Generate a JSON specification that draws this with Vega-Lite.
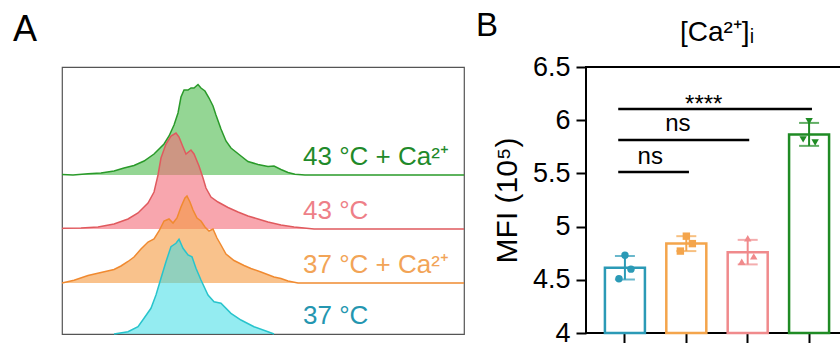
{
  "$schema": "https://vega.github.io/schema/vega-lite/v6.json",
  "background": "white",
  "padding": {"left": 12, "top": 10, "right": 0, "bottom": 0},
  "spacing": 8,
  "config": {
    "font": "Liberation Sans",
    "view": {"stroke": null},
    "title": {"fontWeight": "normal", "color": "black", "font": "Liberation Sans"},
    "axis": {"labelFont": "Liberation Sans", "titleFont": "Liberation Sans"}
  },
  "datasets": {
    "hist": [
      {"g": "43 °C + Ca²⁺", "L": 4.000, "n": 0.5}, {"g": "43 °C + Ca²⁺", "L": 4.130, "n": 0}, {"g": "43 °C + Ca²⁺", "L": 4.307, "n": 1.3}, {"g": "43 °C + Ca²⁺", "L": 4.460, "n": 2}, {"g": "43 °C + Ca²⁺", "L": 4.614, "n": 4}, {"g": "43 °C + Ca²⁺", "L": 4.732, "n": 7}, {"g": "43 °C + Ca²⁺", "L": 4.850, "n": 9.5}, {"g": "43 °C + Ca²⁺", "L": 4.968, "n": 14}, {"g": "43 °C + Ca²⁺", "L": 5.086, "n": 21}, {"g": "43 °C + Ca²⁺", "L": 5.204, "n": 31}, {"g": "43 °C + Ca²⁺", "L": 5.263, "n": 39}, {"g": "43 °C + Ca²⁺", "L": 5.322, "n": 50}, {"g": "43 °C + Ca²⁺", "L": 5.369, "n": 62}, {"g": "43 °C + Ca²⁺", "L": 5.404, "n": 78}, {"g": "43 °C + Ca²⁺", "L": 5.440, "n": 85}, {"g": "43 °C + Ca²⁺", "L": 5.487, "n": 85}, {"g": "43 °C + Ca²⁺", "L": 5.522, "n": 87}, {"g": "43 °C + Ca²⁺", "L": 5.558, "n": 87}, {"g": "43 °C + Ca²⁺", "L": 5.605, "n": 90.5}, {"g": "43 °C + Ca²⁺", "L": 5.640, "n": 87}, {"g": "43 °C + Ca²⁺", "L": 5.687, "n": 84}, {"g": "43 °C + Ca²⁺", "L": 5.735, "n": 77}, {"g": "43 °C + Ca²⁺", "L": 5.782, "n": 69}, {"g": "43 °C + Ca²⁺", "L": 5.817, "n": 60}, {"g": "43 °C + Ca²⁺", "L": 5.876, "n": 46}, {"g": "43 °C + Ca²⁺", "L": 5.935, "n": 34}, {"g": "43 °C + Ca²⁺", "L": 5.994, "n": 27}, {"g": "43 °C + Ca²⁺", "L": 6.112, "n": 19}, {"g": "43 °C + Ca²⁺", "L": 6.195, "n": 13.5}, {"g": "43 °C + Ca²⁺", "L": 6.313, "n": 10.5}, {"g": "43 °C + Ca²⁺", "L": 6.431, "n": 8.5}, {"g": "43 °C + Ca²⁺", "L": 6.502, "n": 9}, {"g": "43 °C + Ca²⁺", "L": 6.584, "n": 5.5}, {"g": "43 °C + Ca²⁺", "L": 6.667, "n": 2.5}, {"g": "43 °C + Ca²⁺", "L": 6.749, "n": 0.8}, {"g": "43 °C + Ca²⁺", "L": 6.867, "n": 0}, {"g": "43 °C + Ca²⁺", "L": 8.744, "n": 0},
      {"g": "43 °C", "L": 4.000, "n": 0.5}, {"g": "43 °C", "L": 4.024, "n": 0.7}, {"g": "43 °C", "L": 4.224, "n": 1}, {"g": "43 °C", "L": 4.425, "n": 2}, {"g": "43 °C", "L": 4.614, "n": 5}, {"g": "43 °C", "L": 4.779, "n": 10}, {"g": "43 °C", "L": 4.897, "n": 16}, {"g": "43 °C", "L": 5.015, "n": 26}, {"g": "43 °C", "L": 5.086, "n": 37}, {"g": "43 °C", "L": 5.133, "n": 54}, {"g": "43 °C", "L": 5.168, "n": 71}, {"g": "43 °C", "L": 5.227, "n": 85}, {"g": "43 °C", "L": 5.286, "n": 93}, {"g": "43 °C", "L": 5.345, "n": 96}, {"g": "43 °C", "L": 5.381, "n": 92}, {"g": "43 °C", "L": 5.428, "n": 82}, {"g": "43 °C", "L": 5.463, "n": 75}, {"g": "43 °C", "L": 5.522, "n": 79}, {"g": "43 °C", "L": 5.558, "n": 75}, {"g": "43 °C", "L": 5.617, "n": 63}, {"g": "43 °C", "L": 5.664, "n": 51}, {"g": "43 °C", "L": 5.699, "n": 41}, {"g": "43 °C", "L": 5.758, "n": 32}, {"g": "43 °C", "L": 5.841, "n": 27}, {"g": "43 °C", "L": 5.959, "n": 21.5}, {"g": "43 °C", "L": 6.077, "n": 17}, {"g": "43 °C", "L": 6.195, "n": 13}, {"g": "43 °C", "L": 6.313, "n": 10}, {"g": "43 °C", "L": 6.431, "n": 7}, {"g": "43 °C", "L": 6.584, "n": 4}, {"g": "43 °C", "L": 6.738, "n": 2}, {"g": "43 °C", "L": 6.974, "n": 0}, {"g": "43 °C", "L": 8.744, "n": 0},
      {"g": "37 °C + Ca²⁺", "L": 4.000, "n": 0}, {"g": "37 °C + Ca²⁺", "L": 4.142, "n": 2.7}, {"g": "37 °C + Ca²⁺", "L": 4.307, "n": 7.5}, {"g": "37 °C + Ca²⁺", "L": 4.460, "n": 10.5}, {"g": "37 °C + Ca²⁺", "L": 4.614, "n": 13.5}, {"g": "37 °C + Ca²⁺", "L": 4.696, "n": 17}, {"g": "37 °C + Ca²⁺", "L": 4.779, "n": 21.5}, {"g": "37 °C + Ca²⁺", "L": 4.850, "n": 26}, {"g": "37 °C + Ca²⁺", "L": 4.932, "n": 34}, {"g": "37 °C + Ca²⁺", "L": 5.015, "n": 41}, {"g": "37 °C + Ca²⁺", "L": 5.086, "n": 44}, {"g": "37 °C + Ca²⁺", "L": 5.145, "n": 52}, {"g": "37 °C + Ca²⁺", "L": 5.204, "n": 62}, {"g": "37 °C + Ca²⁺", "L": 5.263, "n": 64}, {"g": "37 °C + Ca²⁺", "L": 5.310, "n": 60}, {"g": "37 °C + Ca²⁺", "L": 5.357, "n": 65}, {"g": "37 °C + Ca²⁺", "L": 5.404, "n": 76}, {"g": "37 °C + Ca²⁺", "L": 5.451, "n": 85}, {"g": "37 °C + Ca²⁺", "L": 5.475, "n": 87}, {"g": "37 °C + Ca²⁺", "L": 5.510, "n": 81}, {"g": "37 °C + Ca²⁺", "L": 5.546, "n": 73}, {"g": "37 °C + Ca²⁺", "L": 5.593, "n": 65}, {"g": "37 °C + Ca²⁺", "L": 5.640, "n": 62}, {"g": "37 °C + Ca²⁺", "L": 5.687, "n": 56}, {"g": "37 °C + Ca²⁺", "L": 5.735, "n": 52}, {"g": "37 °C + Ca²⁺", "L": 5.782, "n": 54}, {"g": "37 °C + Ca²⁺", "L": 5.829, "n": 45}, {"g": "37 °C + Ca²⁺", "L": 5.876, "n": 38}, {"g": "37 °C + Ca²⁺", "L": 5.935, "n": 29}, {"g": "37 °C + Ca²⁺", "L": 6.030, "n": 22.5}, {"g": "37 °C + Ca²⁺", "L": 6.148, "n": 17.5}, {"g": "37 °C + Ca²⁺", "L": 6.230, "n": 14.5}, {"g": "37 °C + Ca²⁺", "L": 6.348, "n": 11}, {"g": "37 °C + Ca²⁺", "L": 6.502, "n": 6}, {"g": "37 °C + Ca²⁺", "L": 6.584, "n": 4.5}, {"g": "37 °C + Ca²⁺", "L": 6.667, "n": 2}, {"g": "37 °C + Ca²⁺", "L": 6.785, "n": 0}, {"g": "37 °C + Ca²⁺", "L": 8.744, "n": 0},
      {"g": "37 °C", "L": 4.614, "n": 0}, {"g": "37 °C", "L": 4.779, "n": 2.3}, {"g": "37 °C", "L": 4.897, "n": 7.3}, {"g": "37 °C", "L": 4.968, "n": 15.7}, {"g": "37 °C", "L": 5.050, "n": 25.7}, {"g": "37 °C", "L": 5.109, "n": 39}, {"g": "37 °C", "L": 5.168, "n": 55.7}, {"g": "37 °C", "L": 5.227, "n": 72.3}, {"g": "37 °C", "L": 5.286, "n": 87.3}, {"g": "37 °C", "L": 5.345, "n": 90.7}, {"g": "37 °C", "L": 5.381, "n": 94.7}, {"g": "37 °C", "L": 5.428, "n": 85.7}, {"g": "37 °C", "L": 5.487, "n": 79}, {"g": "37 °C", "L": 5.534, "n": 77.3}, {"g": "37 °C", "L": 5.581, "n": 65.7}, {"g": "37 °C", "L": 5.640, "n": 54}, {"g": "37 °C", "L": 5.723, "n": 39}, {"g": "37 °C", "L": 5.794, "n": 32.3}, {"g": "37 °C", "L": 5.876, "n": 30.7}, {"g": "37 °C", "L": 5.994, "n": 20.7}, {"g": "37 °C", "L": 6.112, "n": 14}, {"g": "37 °C", "L": 6.266, "n": 7.3}, {"g": "37 °C", "L": 6.431, "n": 2.3}, {"g": "37 °C", "L": 6.502, "n": 0}
    ],
    "mfi": [
      {"g": "37 °C", "r": 1, "v": 4.51}, {"g": "37 °C", "r": 2, "v": 4.73}, {"g": "37 °C", "r": 3, "v": 4.60},
      {"g": "37 °C + Ca²⁺", "r": 1, "v": 4.77}, {"g": "37 °C + Ca²⁺", "r": 2, "v": 4.91}, {"g": "37 °C + Ca²⁺", "r": 3, "v": 4.84},
      {"g": "43 °C", "r": 1, "v": 4.67}, {"g": "43 °C", "r": 2, "v": 4.89}, {"g": "43 °C", "r": 3, "v": 4.72},
      {"g": "43 °C + Ca²⁺", "r": 1, "v": 5.82}, {"g": "43 °C + Ca²⁺", "r": 2, "v": 5.99}, {"g": "43 °C + Ca²⁺", "r": 3, "v": 5.79}
    ]
  },
  "hconcat": [
    {
      "width": 402,
      "height": 267,
      "title": {"text": "A", "anchor": "start", "frame": "group", "dx": -49, "fontSize": 36, "offset": 18},
      "view": {"stroke": "#555555", "strokeWidth": 1.2},
      "resolve": {"scale": {"y": "independent"}},
      "layer": [
        {
          "layer": [
            {
              "data": {"name": "hist"},
              "transform": [{"filter": {"field": "g", "equal": "43 °C + Ca²⁺"}}],
              "mark": {"type": "area", "fill": "#4cbb4c", "fillOpacity": 0.6, "line": {"stroke": "#2a9a2a", "strokeWidth": 1.5}},
              "encoding": {
                "x": {"field": "L", "type": "quantitative", "scale": {"domain": [4, 8.744], "nice": false, "zero": false},
                  "axis": {"title": null, "labels": false, "domain": false, "grid": false, "tickColor": "#444444", "tickWidth": 1.2,
                    "tickSize": {"condition": {"test": "abs(datum.value - round(datum.value)) < 0.001", "value": 9}, "value": 5},
                    "values": [4,4.301,4.477,4.602,4.699,4.778,4.845,4.903,4.954,5,5.301,5.477,5.602,5.699,5.778,5.845,5.903,5.954,6,6.301,6.477,6.602,6.699,6.778,6.845,6.903,6.954,7,7.301,7.477,7.602,7.699,7.778,7.845,7.903,7.954,8,8.301,8.477,8.602,8.699]}},
                "y": {"field": "n", "type": "quantitative", "scale": {"domain": [-159, 108], "nice": false}, "axis": null}
              }
            },
            {
              "data": {"values": [{"label": "43 °C + Ca²⁺"}]},
              "mark": {"type": "text", "align": "left", "baseline": "alphabetic", "fontSize": 26, "color": "#1f8a2a"},
              "encoding": {
                "x": {"datum": 6.844, "type": "quantitative", "axis": null},
                "y": {"datum": 10, "type": "quantitative", "axis": null},
                "text": {"field": "label"}
              }
            }
          ]
        },
        {
          "layer": [
            {
              "data": {"name": "hist"},
              "transform": [{"filter": {"field": "g", "equal": "43 °C"}}],
              "mark": {"type": "area", "fill": "#f46a78", "fillOpacity": 0.6, "line": {"stroke": "#e05a5e", "strokeWidth": 1.5}},
              "encoding": {
                "x": {"field": "L", "type": "quantitative", "scale": {"domain": [4, 8.744], "nice": false, "zero": false}, "axis": null},
                "y": {"field": "n", "type": "quantitative", "scale": {"domain": [-105, 162], "nice": false}, "axis": null}
              }
            },
            {
              "data": {"values": [{"label": "43 °C"}]},
              "mark": {"type": "text", "align": "left", "baseline": "alphabetic", "fontSize": 26, "color": "#ee7f88"},
              "encoding": {
                "x": {"datum": 6.844, "type": "quantitative", "axis": null},
                "y": {"datum": 10, "type": "quantitative", "axis": null},
                "text": {"field": "label"}
              }
            }
          ]
        },
        {
          "layer": [
            {
              "data": {"name": "hist"},
              "transform": [{"filter": {"field": "g", "equal": "37 °C + Ca²⁺"}}],
              "mark": {"type": "area", "fill": "#f59a40", "fillOpacity": 0.6, "line": {"stroke": "#f08a30", "strokeWidth": 1.5}},
              "encoding": {
                "x": {"field": "L", "type": "quantitative", "scale": {"domain": [4, 8.744], "nice": false, "zero": false}, "axis": null},
                "y": {"field": "n", "type": "quantitative", "scale": {"domain": [-51, 216], "nice": false}, "axis": null}
              }
            },
            {
              "data": {"values": [{"label": "37 °C + Ca²⁺"}]},
              "mark": {"type": "text", "align": "left", "baseline": "alphabetic", "fontSize": 26, "color": "#f2a457"},
              "encoding": {
                "x": {"datum": 6.844, "type": "quantitative", "axis": null},
                "y": {"datum": 10, "type": "quantitative", "axis": null},
                "text": {"field": "label"}
              }
            }
          ]
        },
        {
          "layer": [
            {
              "data": {"name": "hist"},
              "transform": [{"filter": {"field": "g", "equal": "37 °C"}}],
              "mark": {"type": "area", "fill": "#3ddde6", "fillOpacity": 0.55, "line": {"stroke": "#28c4cc", "strokeWidth": 1.5}},
              "encoding": {
                "x": {"field": "L", "type": "quantitative", "scale": {"domain": [4, 8.744], "nice": false, "zero": false}, "axis": null},
                "y": {"field": "n", "type": "quantitative", "scale": {"domain": [0, 267], "nice": false}, "axis": null}
              }
            },
            {
              "data": {"values": [{"label": "37 °C"}]},
              "mark": {"type": "text", "align": "left", "baseline": "alphabetic", "fontSize": 26, "color": "#2496b0"},
              "encoding": {
                "x": {"datum": 6.844, "type": "quantitative", "axis": null},
                "y": {"datum": 10, "type": "quantitative", "axis": null},
                "text": {"field": "label"}
              }
            }
          ]
        }
      ]
    },
    {
      "title": {"text": "B", "anchor": "start", "frame": "group", "dx": -110, "fontSize": 33, "offset": -25},
      "vconcat": [
        {
          "width": 262,
          "height": 266,
          "title": {"text": "[Ca²⁺]ᵢ", "fontSize": 28, "anchor": "middle", "offset": 6},
          "view": {"stroke": "black", "strokeWidth": 2},
          "resolve": {"scale": {"x": "independent"}},
          "layer": [
            {
              "data": {"name": "mfi"},
              "mark": {"type": "bar", "fill": "white", "strokeWidth": 2.5, "width": 40},
              "encoding": {
                "x": {"field": "g", "type": "nominal", "sort": ["37 °C", "37 °C + Ca²⁺", "43 °C", "43 °C + Ca²⁺"],
                  "scale": {"type": "band", "domain": ["37 °C", "37 °C + Ca²⁺", "43 °C", "43 °C + Ca²⁺"], "paddingInner": 0.35, "paddingOuter": 0.309},
                  "axis": {"title": null, "labels": false, "domain": false, "ticks": true, "tickSize": 10, "tickWidth": 2, "tickColor": "black"}},
                "y": {"aggregate": "mean", "field": "v", "type": "quantitative", "scale": {"domain": [4, 6.5], "nice": false, "zero": false},
                  "axis": {"title": "MFI (10⁵)", "titleFontSize": 30, "titleFontWeight": "normal", "titleColor": "black", "titlePadding": 10,
                    "labelFontSize": 27, "labelColor": "black", "labelPadding": 6, "tickSize": 10, "tickWidth": 2, "tickColor": "black",
                    "domain": false, "grid": false, "values": [4, 4.5, 5, 5.5, 6, 6.5], "format": "~g"}},
                "stroke": {"field": "g", "type": "nominal", "scale": {"domain": ["37 °C", "37 °C + Ca²⁺", "43 °C", "43 °C + Ca²⁺"], "range": ["#2b9ab6", "#f4a54c", "#f08a8c", "#1f8b24"]}, "legend": null}
              }
            },
            {
              "data": {"name": "mfi"},
              "mark": {"type": "errorbar", "extent": "stdev", "ticks": true, "size": 20, "thickness": 2},
              "encoding": {
                "x": {"field": "g", "type": "nominal", "sort": ["37 °C", "37 °C + Ca²⁺", "43 °C", "43 °C + Ca²⁺"],
                  "scale": {"type": "band", "domain": ["37 °C", "37 °C + Ca²⁺", "43 °C", "43 °C + Ca²⁺"], "paddingInner": 0.35, "paddingOuter": 0.309}, "axis": null},
                "y": {"field": "v", "type": "quantitative", "scale": {"domain": [4, 6.5], "nice": false, "zero": false},
                  "axis": {"title": "MFI (10⁵)", "titleFontSize": 30, "titleFontWeight": "normal", "titleColor": "black", "titlePadding": 10,
                    "labelFontSize": 27, "labelColor": "black", "labelPadding": 6, "tickSize": 10, "tickWidth": 2, "tickColor": "black",
                    "domain": false, "grid": false, "values": [4, 4.5, 5, 5.5, 6, 6.5], "format": "~g"}},
                "color": {"field": "g", "type": "nominal", "scale": {"domain": ["37 °C", "37 °C + Ca²⁺", "43 °C", "43 °C + Ca²⁺"], "range": ["#2b9ab6", "#f4a54c", "#f08a8c", "#1f8b24"]}, "legend": null}
              }
            },
            {
              "data": {"name": "mfi"},
              "mark": {"type": "point", "filled": true, "size": 55, "opacity": 1},
              "encoding": {
                "x": {"field": "g", "type": "nominal", "sort": ["37 °C", "37 °C + Ca²⁺", "43 °C", "43 °C + Ca²⁺"],
                  "scale": {"type": "band", "domain": ["37 °C", "37 °C + Ca²⁺", "43 °C", "43 °C + Ca²⁺"], "paddingInner": 0.35, "paddingOuter": 0.309}, "axis": null},
                "xOffset": {"field": "r", "type": "quantitative", "scale": {"domain": [0, 4], "range": [8, 32]}},
                "y": {"field": "v", "type": "quantitative", "scale": {"domain": [4, 6.5], "nice": false, "zero": false},
                  "axis": {"title": "MFI (10⁵)", "titleFontSize": 30, "titleFontWeight": "normal", "titleColor": "black", "titlePadding": 10,
                    "labelFontSize": 27, "labelColor": "black", "labelPadding": 6, "tickSize": 10, "tickWidth": 2, "tickColor": "black",
                    "domain": false, "grid": false, "values": [4, 4.5, 5, 5.5, 6, 6.5], "format": "~g"}},
                "color": {"field": "g", "type": "nominal", "scale": {"domain": ["37 °C", "37 °C + Ca²⁺", "43 °C", "43 °C + Ca²⁺"], "range": ["#2b9ab6", "#f4a54c", "#f08a8c", "#1f8b24"]}, "legend": null},
                "shape": {"field": "g", "type": "nominal", "scale": {"domain": ["37 °C", "37 °C + Ca²⁺", "43 °C", "43 °C + Ca²⁺"], "range": ["circle", "square", "triangle-up", "triangle-down"]}, "legend": null}
              }
            },
            {
              "data": {"values": [{"x1": -0.11, "x2": 3.04, "y": 6.105}, {"x1": -0.11, "x2": 2.02, "y": 5.814}, {"x1": -0.11, "x2": 1.04, "y": 5.513}]},
              "mark": {"type": "rule", "strokeWidth": 2.5, "color": "black"},
              "encoding": {
                "x": {"field": "x1", "type": "quantitative", "scale": {"domain": [-0.634, 3.626], "nice": false, "zero": false}, "axis": null},
                "x2": {"field": "x2"},
                "y": {"field": "y", "type": "quantitative", "scale": {"domain": [4, 6.5], "nice": false, "zero": false},
                  "axis": {"title": "MFI (10⁵)", "titleFontSize": 30, "titleFontWeight": "normal", "titleColor": "black", "titlePadding": 10,
                    "labelFontSize": 27, "labelColor": "black", "labelPadding": 6, "tickSize": 10, "tickWidth": 2, "tickColor": "black",
                    "domain": false, "grid": false, "values": [4, 4.5, 5, 5.5, 6, 6.5], "format": "~g"}}
              }
            },
            {
              "data": {"values": [{"tx": 1.28, "ty": 6.08, "t": "****"}, {"tx": 0.86, "ty": 5.898, "t": "ns"}, {"tx": 0.41, "ty": 5.588, "t": "ns"}]},
              "mark": {"type": "text", "fontSize": 24, "align": "center", "baseline": "alphabetic", "color": "black"},
              "encoding": {
                "x": {"field": "tx", "type": "quantitative", "scale": {"domain": [-0.634, 3.626], "nice": false, "zero": false}, "axis": null},
                "y": {"field": "ty", "type": "quantitative", "scale": {"domain": [4, 6.5], "nice": false, "zero": false},
                  "axis": {"title": "MFI (10⁵)", "titleFontSize": 30, "titleFontWeight": "normal", "titleColor": "black", "titlePadding": 10,
                    "labelFontSize": 27, "labelColor": "black", "labelPadding": 6, "tickSize": 10, "tickWidth": 2, "tickColor": "black",
                    "domain": false, "grid": false, "values": [4, 4.5, 5, 5.5, 6, 6.5], "format": "~g"}},
                "text": {"field": "t"}
              }
            }
          ]
        }
      ]
    }
  ]
}
